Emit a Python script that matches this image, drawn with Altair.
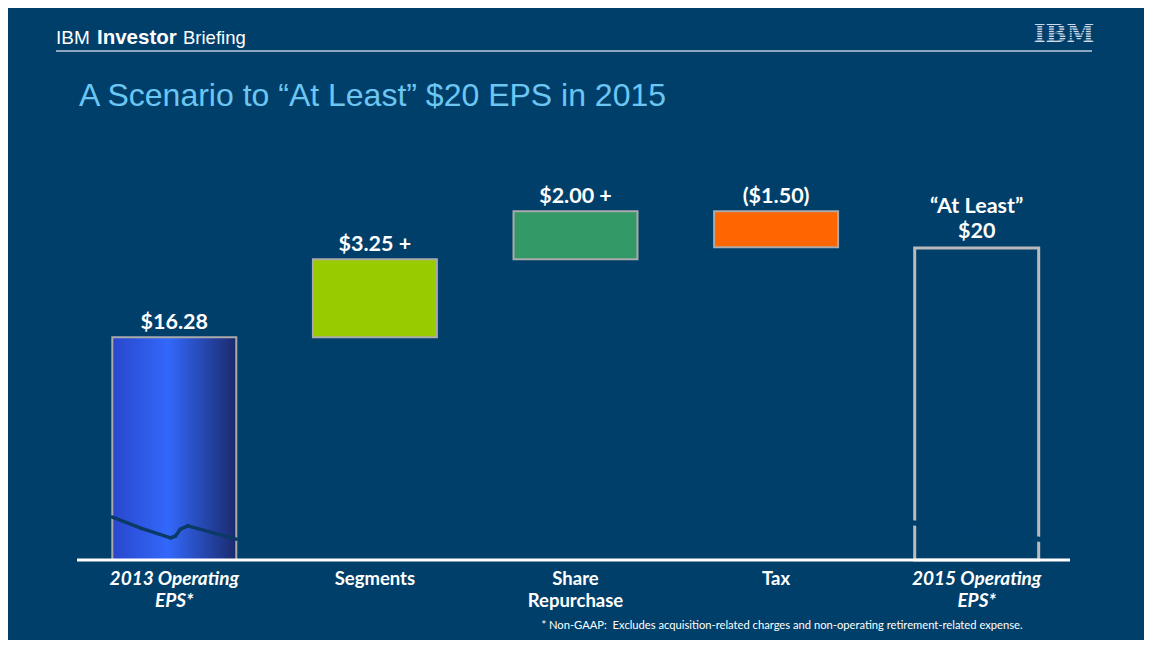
import altair as alt
import pandas as pd

# ---------------- data ----------------
keys = ["2013", "Segments", "Share Repurchase", "Tax", "2015"]
cat_labels = ["2013 Operating\nEPS*", "Segments", "Share\nRepurchase", "Tax", "2015 Operating\nEPS*"]
kinds = ["start", "delta", "delta", "delta", "end"]
amounts = [16.28, 3.25, 2.00, -1.50, 20.00]
value_labels = ["$16.28", "$3.25 +", "$2.00 +", "($1.50)", "\u201cAt Least\u201d\n$20"]
delta_colors = ["#99cc00", "#339966", "#ff6600"]
axis_floor = 7.0      # broken axis: the baseline stands for about $7
axis_top = 24.0

# axis-break marker (fraction across bar, EPS value)
break_fracs = [0.0, 0.23, 0.47, 0.51, 0.55, 0.61, 1.0]
break_vals = [8.79, 8.33, 7.92, 8.0, 8.29, 8.42, 7.87]
end_break_vals = [8.54, 7.87]

footnote = "* Non-GAAP:\u00a0\u00a0Excludes acquisition-related charges and non-operating retirement-related expense."
title_text = "A Scenario to \u201cAt Least\u201d $20 EPS in 2015"

# ---------------- build table ----------------
rows = []
run = 0.0
for k, lab, kind, amt, vl in zip(keys, cat_labels, kinds, amounts, value_labels):
    if kind == "start":
        bottom, top = axis_floor, amt
        run = amt
    elif kind == "delta":
        bottom, top = run, run + amt
        run = run + amt
    else:
        bottom, top = axis_floor, amt
    rows.append(dict(key=k, label=lab, kind=kind, bottom=bottom, top=top,
                     labtop=max(bottom, top), vlabel=vl,
                     multiline="\n" in vl,
                     italic=kind != "delta"))
df = pd.DataFrame(rows)

BG = "#013f6b"
STROKE = "#aaaaaa"
FONT = "Lato"

xenc = alt.X("key:N", scale=alt.Scale(domain=keys, paddingInner=0.382, paddingOuter=0.191), axis=None)
yscale = alt.Scale(domain=[axis_floor, axis_top], zero=False, nice=False)

base = alt.Chart(df)

grad = alt.Gradient(
    gradient="linear",
    stops=[alt.GradientStop(color="#2947cc", offset=0),
           alt.GradientStop(color="#3268fa", offset=0.45),
           alt.GradientStop(color="#1b2a6c", offset=1)],
    x1=0, x2=1, y1=0, y2=0)

bar_start = base.transform_filter("datum.kind == 'start'").mark_bar(
    color=grad, stroke=STROKE, strokeWidth=2).encode(
    x=xenc, y=alt.Y("top:Q", scale=yscale, axis=None), y2="bottom:Q")

bar_delta = base.transform_filter("datum.kind == 'delta'").mark_bar(
    stroke=STROKE, strokeWidth=2).encode(
    x=xenc, y=alt.Y("top:Q", scale=yscale, axis=None), y2="bottom:Q",
    color=alt.Color("key:N", scale=alt.Scale(domain=keys[1:4], range=delta_colors), legend=None))

bar_end = base.transform_filter("datum.kind == 'end'").mark_bar(
    fill=BG, fillOpacity=0, stroke="#bbbbbb", strokeWidth=3).encode(
    x=xenc, y=alt.Y("top:Q", scale=yscale, axis=None), y2="bottom:Q")

# axis-break squiggle on the first bar
squiggle_layers = []
for i in range(len(break_fracs) - 1):
    seg = pd.DataFrame({"key": [keys[0]], "ya": [break_vals[i]], "yb": [break_vals[i + 1]]})
    squiggle_layers.append(
        alt.Chart(seg).mark_rule(color="#0b3a66", strokeWidth=3.5, strokeCap="round").encode(
            x=alt.X("key:N", bandPosition=break_fracs[i], scale=alt.Scale(domain=keys), axis=None),
            x2=alt.X2("key:N", bandPosition=break_fracs[i + 1]),
            y=alt.Y("ya:Q", scale=yscale, axis=None), y2="yb:Q"))

endseg = pd.DataFrame({"key": [keys[4]], "ya": [end_break_vals[0]], "yb": [end_break_vals[1]]})
end_gap = alt.Chart(endseg).mark_rule(color=BG, strokeWidth=5, strokeCap="square").encode(
    x=alt.X("key:N", bandPosition=0, scale=alt.Scale(domain=keys), axis=None),
    x2=alt.X2("key:N", bandPosition=1),
    y=alt.Y("ya:Q", scale=yscale, axis=None), y2="yb:Q")

vt_style = dict(baseline="bottom", fontSize=21.5, fontWeight="bold", font=FONT,
                color="white", lineBreak="\n", lineHeight=25)
value_text = base.transform_filter("!datum.multiline").mark_text(dy=-3, **vt_style).encode(
    x=xenc, y=alt.Y("labtop:Q", scale=yscale, axis=None), text="vlabel:N")
value_text2 = base.transform_filter("datum.multiline").mark_text(dy=-30, **vt_style).encode(
    x=xenc, y=alt.Y("labtop:Q", scale=yscale, axis=None), text="vlabel:N")

cat_norm = base.transform_filter("!datum.italic").mark_text(
    baseline="top", fontSize=18.5, fontWeight="bold", font=FONT, color="white",
    lineBreak="\n", lineHeight=22).encode(x=xenc, y=alt.value(418), text="label:N")
cat_ital = base.transform_filter("datum.italic").mark_text(
    baseline="top", fontSize=19, fontWeight="bold", fontStyle="italic", font=FONT,
    color="white", lineBreak="\n", lineHeight=22).encode(x=xenc, y=alt.value(418), text="label:N")

one = alt.Chart(pd.DataFrame({"a": [0]}))

baseline = one.mark_rule(color="white", strokeWidth=3).encode(
    x=alt.value(3), x2=alt.value(996), y=alt.value(408))

# header
hdr_font = "Liberation Sans"
h1 = one.mark_text(text="IBM", align="left", baseline="alphabetic", fontSize=19,
                   font=hdr_font, color="white").encode(x=alt.value(-18), y=alt.value(-108))
h2 = one.mark_text(text="Investor", align="left", baseline="alphabetic", fontSize=20.5,
                   font=hdr_font, fontWeight="bold", color="white").encode(x=alt.value(23), y=alt.value(-108))
h3 = one.mark_text(text="Briefing", align="left", baseline="alphabetic", fontSize=18.5,
                   font=hdr_font, color="white").encode(x=alt.value(109), y=alt.value(-108))
hline = one.mark_rule(color="#8ea8c0", strokeWidth=2).encode(
    x=alt.value(-18), x2=alt.value(1018), y=alt.value(-101))
logo = one.mark_text(text="IBM", align="center", baseline="alphabetic", fontSize=25,
                     font="DejaVu Serif", fontWeight="bold", color="#d0dcea").encode(
    x=alt.value(990), y=alt.value(-110))
stripes = [one.mark_rule(color=BG, strokeWidth=1).encode(
    x=alt.value(958), x2=alt.value(1022), y=alt.value(-126.5 + 2.4 * i)) for i in range(7)]

title = one.mark_text(text=title_text, align="left", baseline="alphabetic", fontSize=32,
                      font="Liberation Sans", color="#6cc6f2").encode(x=alt.value(5), y=alt.value(-46))

foot = one.mark_text(text=footnote, align="center", baseline="middle", fontSize=11.2,
                     font=FONT, color="white").encode(x=alt.value(708), y=alt.value(474))

chart = alt.layer(
    bar_start, bar_delta, bar_end, *squiggle_layers, end_gap, baseline,
    value_text, value_text2, cat_norm, cat_ital, h1, h2, h3, hline, logo, *stripes, title, foot
).properties(
    width=1003, height=408,
    padding={"left": 66, "top": 144, "right": 67, "bottom": 80},
    autosize=alt.AutoSizeParams(type="none"),
    background=BG,
).configure_view(stroke=None)

chart.save("out.html", embed_options={"renderer": "svg", "actions": False})
